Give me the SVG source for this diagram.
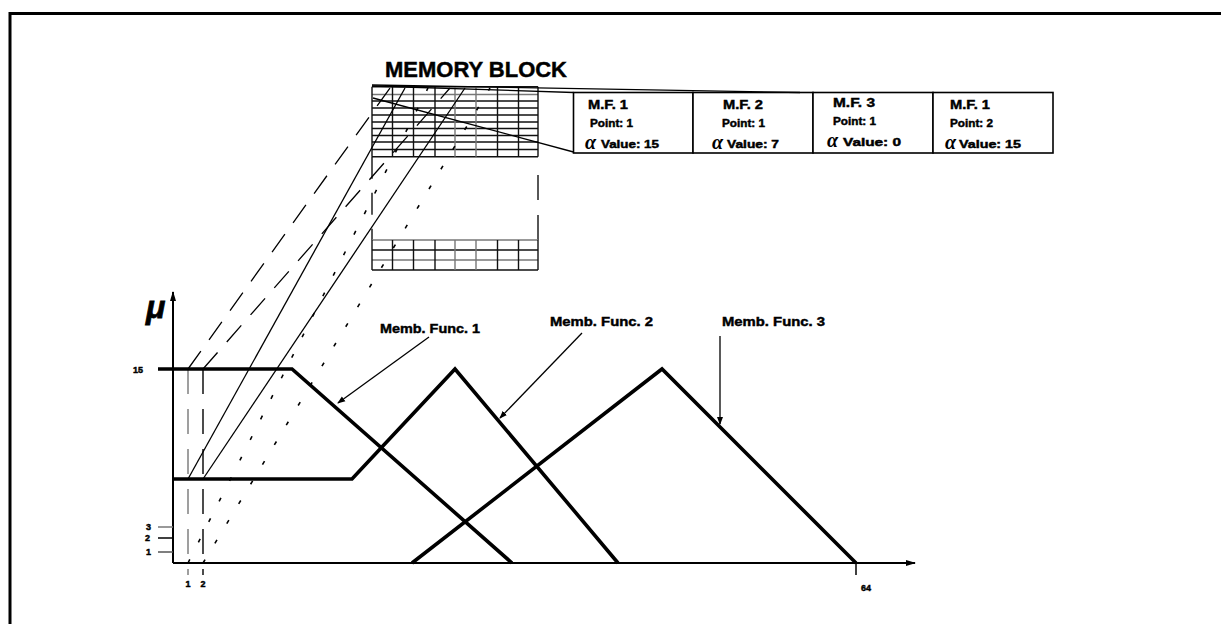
<svg xmlns="http://www.w3.org/2000/svg" width="1221" height="624" viewBox="0 0 1221 624">
<style>
text{font-family:"Liberation Sans",Arial,sans-serif;font-weight:bold;fill:#000}
.hv{stroke:#000;stroke-width:0.45}
.grid line{stroke:#111;stroke-width:1.4}
.grid .g{stroke:#777}
.mf{fill:none;stroke:#000;stroke-width:3.6;stroke-linejoin:miter}
.ax{stroke:#000;stroke-width:2;fill:none}
.dash{stroke:#000;stroke-width:1.3;stroke-dasharray:22 14;fill:none}
.dot{stroke:#000;stroke-width:1.6;stroke-dasharray:4 19;fill:none}
.sol{stroke:#000;stroke-width:1.3;fill:none}
.ptr{stroke:#000;stroke-width:1.3;fill:none;marker-end:url(#ah)}
.cell{fill:#fff;stroke:#000;stroke-width:1.6}
.t1{font-size:13px}
.t2{font-size:11px}
.lab{font-size:13px}
.al{font-size:20px;font-style:italic;font-family:"Liberation Serif",serif}
.sm{font-size:9px}
</style>
<defs>
<marker id="ah" markerWidth="8" markerHeight="8" refX="7" refY="4" orient="auto" markerUnits="userSpaceOnUse">
<path d="M0,1 L8,4 L0,7 Z" fill="#000"/>
</marker>
<marker id="axh" markerWidth="10" markerHeight="10" refX="9" refY="5" orient="auto" markerUnits="userSpaceOnUse">
<path d="M0,2 L10,5 L0,8 Z" fill="#000"/>
</marker>
</defs>
<rect width="1221" height="624" fill="#fff"/>
<g id="frame">
<path d="M10,630 V13.5 H1230" fill="none" stroke="#000" stroke-width="3"/>
</g>
<g id="memory-title"><text class="hv" x="385" y="77" font-size="22" stroke-width="0.8" textLength="182" lengthAdjust="spacingAndGlyphs">MEMORY BLOCK</text></g>
<g id="memory-block" class="grid">
<line x1="372" y1="86.7" x2="538" y2="86.7"/>
<line x1="372" y1="94.5" x2="538" y2="94.5" class="g"/>
<line x1="372" y1="101" x2="538" y2="101"/>
<line x1="372" y1="108" x2="538" y2="108"/>
<line x1="372" y1="115" x2="538" y2="115"/>
<line x1="372" y1="122" x2="538" y2="122"/>
<line x1="372" y1="128.5" x2="538" y2="128.5"/>
<line x1="372" y1="135.5" x2="538" y2="135.5"/>
<line x1="372" y1="142" x2="538" y2="142"/>
<line x1="372" y1="149.5" x2="538" y2="149.5"/>
<line x1="372" y1="156.7" x2="538" y2="156.7"/>
<line x1="372" y1="86.7" x2="372" y2="156.7"/>
<line x1="392.5" y1="86.7" x2="392.5" y2="156.7"/>
<line x1="413.5" y1="86.7" x2="413.5" y2="156.7"/>
<line x1="435" y1="86.7" x2="435" y2="156.7"/>
<line x1="455" y1="86.7" x2="455" y2="156.7" class="g"/>
<line x1="476" y1="86.7" x2="476" y2="156.7" class="g"/>
<line x1="497.5" y1="86.7" x2="497.5" y2="156.7"/>
<line x1="518.5" y1="86.7" x2="518.5" y2="156.7"/>
<line x1="538" y1="86.7" x2="538" y2="156.7"/>
<line x1="372" y1="156.7" x2="372" y2="240" stroke-dasharray="22 14"/>
<line x1="538" y1="175" x2="538" y2="240" stroke-dasharray="25 15"/>
<line x1="372" y1="240" x2="538" y2="240" class="g"/>
<line x1="372" y1="250" x2="538" y2="250"/>
<line x1="372" y1="260" x2="538" y2="260" class="g"/>
<line x1="372" y1="270" x2="538" y2="270"/>
<line x1="372" y1="240" x2="372" y2="270"/>
<line x1="392.5" y1="240" x2="392.5" y2="270"/>
<line x1="413.5" y1="240" x2="413.5" y2="270"/>
<line x1="435" y1="240" x2="435" y2="270"/>
<line x1="455" y1="240" x2="455" y2="270" class="g"/>
<line x1="476" y1="240" x2="476" y2="270" class="g"/>
<line x1="497.5" y1="240" x2="497.5" y2="270"/>
<line x1="518.5" y1="240" x2="518.5" y2="270"/>
<line x1="538" y1="240" x2="538" y2="270"/>
</g>
<g id="cell-1">
<rect class="cell" x="573.5" y="92.5" width="119.5" height="60.5"/>
<text class="t1 hv" x="588" y="109" textLength="40" lengthAdjust="spacingAndGlyphs">M.F. 1</text>
<text class="t2 hv" x="590" y="127" textLength="43" lengthAdjust="spacingAndGlyphs">Point: 1</text>
<text class="al" x="585" y="149">α</text><text class="t2 hv" x="601" y="148" textLength="58" lengthAdjust="spacingAndGlyphs">Value: 15</text>
</g>
<g id="cell-2">
<rect class="cell" x="693" y="92.5" width="120" height="60.5"/>
<text class="t1 hv" x="723" y="109" textLength="40" lengthAdjust="spacingAndGlyphs">M.F. 2</text>
<text class="t2 hv" x="722" y="127" textLength="43" lengthAdjust="spacingAndGlyphs">Point: 1</text>
<text class="al" x="712" y="149">α</text><text class="t2 hv" x="727" y="148" textLength="52" lengthAdjust="spacingAndGlyphs">Value: 7</text>
</g>
<g id="cell-3">
<rect class="cell" x="813" y="92.5" width="120" height="60.5"/>
<text class="t1 hv" x="833" y="107" textLength="42" lengthAdjust="spacingAndGlyphs">M.F. 3</text>
<text class="t2 hv" x="833" y="125" textLength="43" lengthAdjust="spacingAndGlyphs">Point: 1</text>
<text class="al" x="827" y="147">α</text><text class="t2 hv" x="843" y="146" textLength="58" lengthAdjust="spacingAndGlyphs">Value: 0</text>
</g>
<g id="cell-4">
<rect class="cell" x="933" y="92.5" width="120" height="60.5"/>
<text class="t1 hv" x="950" y="109" textLength="40" lengthAdjust="spacingAndGlyphs">M.F. 1</text>
<text class="t2 hv" x="950" y="127" textLength="43" lengthAdjust="spacingAndGlyphs">Point: 2</text>
<text class="al" x="945" y="149">α</text><text class="t2 hv" x="959" y="148" textLength="62" lengthAdjust="spacingAndGlyphs">Value: 15</text>
</g>
<g id="axes">
<line class="ax" x1="173" y1="563" x2="173" y2="292" marker-end="url(#axh)"/>
<line class="ax" x1="173" y1="563" x2="915" y2="563" marker-end="url(#axh)"/>
<text x="146" y="318" font-size="32" font-style="italic" font-family="Liberation Serif,serif" stroke="#000" stroke-width="0.8">μ</text>
<line x1="158" y1="527" x2="173" y2="527" stroke="#777" stroke-width="1.5"/>
<line x1="158" y1="538" x2="173" y2="538" stroke="#000" stroke-width="1.5"/>
<line x1="158" y1="552" x2="173" y2="552" stroke="#555" stroke-width="1.5"/>
<text class="sm hv" x="146" y="530">3</text>
<text class="sm hv" x="145" y="541">2</text>
<text class="sm hv" x="146" y="555">1</text>
<text class="sm hv" x="133" y="373">15</text>
<line x1="856" y1="563" x2="856" y2="575" stroke="#000" stroke-width="1.5"/>
<text class="sm hv" x="866" y="591" text-anchor="middle">64</text>
<line x1="188" y1="369" x2="188" y2="575" stroke="#777" stroke-width="1.4" stroke-dasharray="25 15"/>
<line x1="203" y1="369" x2="203" y2="575" stroke="#000" stroke-width="1.4" stroke-dasharray="25 15"/>
<text class="sm hv" x="188" y="587" text-anchor="middle">1</text>
<text class="sm hv" x="203" y="587" text-anchor="middle">2</text>
</g>
<g id="connectors">
<line class="sol" x1="372" y1="85" x2="800" y2="92.5"/>
<line class="sol" x1="372" y1="86" x2="573.5" y2="92.5" stroke="#666"/>
<line class="sol" x1="373" y1="98" x2="573.5" y2="152"/>
<line class="dash" x1="188" y1="369" x2="390" y2="88"/>
<line class="dash" x1="203" y1="369" x2="450" y2="88"/>
<line class="sol" x1="188" y1="479" x2="405" y2="88"/>
<line class="sol" x1="203" y1="479" x2="465" y2="88"/>
<line class="dot" x1="188" y1="563" x2="428" y2="88"/>
<line class="dot" x1="203" y1="563" x2="490" y2="88"/>
<line class="ptr" x1="429" y1="337" x2="338" y2="403"/>
<line class="ptr" x1="582" y1="333" x2="500" y2="418"/>
<line class="ptr" x1="720" y1="336" x2="720" y2="424"/>
</g>
<g id="mf1">
<polyline class="mf" points="158,369 292,369 512,563"/>
<text class="lab hv" x="380" y="333" textLength="100" lengthAdjust="spacingAndGlyphs">Memb. Func. 1</text>
</g>
<g id="mf2">
<polyline class="mf" points="173,479 352,479 455,369 618,563"/>
<text class="lab hv" x="550" y="326" textLength="103" lengthAdjust="spacingAndGlyphs">Memb. Func. 2</text>
</g>
<g id="mf3">
<polyline class="mf" points="412,563 662,369 856,563"/>
<text class="lab hv" x="722" y="326" textLength="103" lengthAdjust="spacingAndGlyphs">Memb. Func. 3</text>
</g>
</svg>
